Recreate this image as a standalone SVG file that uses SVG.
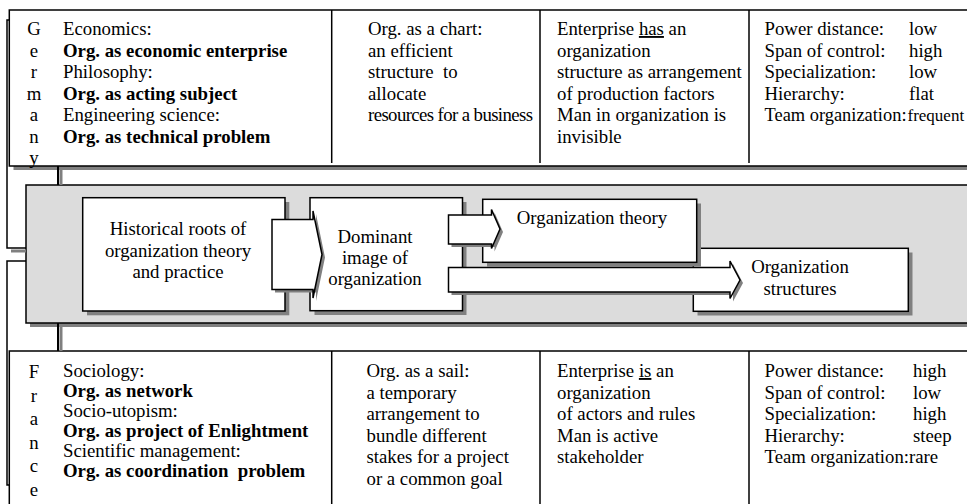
<svg xmlns="http://www.w3.org/2000/svg" width="967" height="504" viewBox="0 0 967 504">
<defs>
<style>
.t{font-family:"Liberation Serif","Times New Roman",serif;font-size:18.8px;fill:#000}
.b{font-weight:bold}
.c{text-anchor:middle}
.u{text-decoration:underline}
.frame{fill:#fff;stroke:#000;stroke-width:1.5}
.panel{fill:#dcdcdc;stroke:#000;stroke-width:1.5}
.shadow{fill:#808080;stroke:none}
.div{stroke:#000;stroke-width:1.5;fill:none}
.arrow{fill:#fff;stroke:#000;stroke-width:1.5;stroke-linejoin:miter}
.link{stroke:#000;stroke-width:1.5;fill:none}
.linkshadow{stroke:#808080;stroke-width:3;fill:none}
</style>
</defs>
<rect width="967" height="504" fill="#fff"/>

<g id="germany-row">
<rect class="shadow" x="13.5" y="14" width="970" height="156"/>
<rect class="frame" x="9.3" y="10" width="970" height="156"/>
<line class="div" x1="331.7" y1="10" x2="331.7" y2="163"/>
<line class="div" x1="540" y1="10" x2="540" y2="163"/>
<line class="div" x1="749" y1="10" x2="749" y2="163"/>
<text class="t c"><tspan x="34" y="35">G</tspan><tspan x="34" y="56.5">e</tspan><tspan x="34" y="78">r</tspan><tspan x="34" y="99.5">m</tspan><tspan x="34" y="121">a</tspan><tspan x="34" y="142.5">n</tspan><tspan x="34" y="164">y</tspan></text>
<text class="t"><tspan x="63" y="35">Economics:</tspan><tspan x="63" y="56.5" class="b">Org. as economic enterprise</tspan><tspan x="63" y="78">Philosophy:</tspan><tspan x="63" y="99.5" class="b">Org. as acting subject</tspan><tspan x="63" y="121">Engineering science:</tspan><tspan x="63" y="142.5" class="b">Org. as technical problem</tspan></text>
<text class="t" xml:space="preserve"><tspan x="368" y="35">Org. as a chart:</tspan><tspan x="368" y="56.5">an efficient</tspan><tspan x="368" y="78">structure  to</tspan><tspan x="368" y="99.5">allocate</tspan></text>
<text class="t" x="368" y="121" textLength="165" lengthAdjust="spacing">resources for a business</text>
<text class="t"><tspan x="557" y="35">Enterprise <tspan class="u">has</tspan> an</tspan><tspan x="557" y="56.5">organization</tspan><tspan x="557" y="78">structure as arrangement</tspan><tspan x="557" y="99.5">of production factors</tspan><tspan x="557" y="121">Man in organization is</tspan><tspan x="557" y="142.5">invisible</tspan></text>
<text class="t"><tspan x="764.5" y="35">Power distance:</tspan><tspan x="764.5" y="56.5">Span of control:</tspan><tspan x="764.5" y="78">Specialization:</tspan><tspan x="764.5" y="99.5">Hierarchy:</tspan></text>
<text class="t" x="764.5" y="121" textLength="142" lengthAdjust="spacingAndGlyphs">Team organization:</text>
<text class="t"><tspan x="909" y="35">low</tspan><tspan x="909" y="56.5">high</tspan><tspan x="909" y="78">low</tspan><tspan x="909" y="99.5">flat</tspan></text>
<text class="t" x="907.5" y="121" style="font-size:17px">frequent</text>
</g>

<g id="france-row">
<rect class="frame" x="9.3" y="351" width="970" height="170"/>
<line class="div" x1="331.7" y1="351" x2="331.7" y2="504"/>
<line class="div" x1="540" y1="351" x2="540" y2="504"/>
<line class="div" x1="749" y1="351" x2="749" y2="504"/>
<text class="t c"><tspan x="34" y="378">F</tspan><tspan x="34" y="401.5">r</tspan><tspan x="34" y="425">a</tspan><tspan x="34" y="448.5">n</tspan><tspan x="34" y="472">c</tspan><tspan x="34" y="495.5">e</tspan></text>
<text class="t" xml:space="preserve"><tspan x="63" y="377">Sociology:</tspan><tspan x="63" y="397" class="b">Org. as network</tspan><tspan x="63" y="417">Socio-utopism:</tspan><tspan x="63" y="437" class="b">Org. as project of Enlightment</tspan><tspan x="63" y="457">Scientific management:</tspan><tspan x="63" y="477" class="b">Org. as coordination  problem</tspan></text>
<text class="t"><tspan x="366.5" y="377">Org. as a sail:</tspan><tspan x="366.5" y="398.5">a temporary</tspan><tspan x="366.5" y="420">arrangement to</tspan><tspan x="366.5" y="441.5">bundle different</tspan><tspan x="366.5" y="463">stakes for a project</tspan><tspan x="366.5" y="484.5">or a common goal</tspan></text>
<text class="t"><tspan x="557" y="377">Enterprise <tspan class="u">is</tspan> an</tspan><tspan x="557" y="398.5">organization</tspan><tspan x="557" y="420">of actors and rules</tspan><tspan x="557" y="441.5">Man is active</tspan><tspan x="557" y="463">stakeholder</tspan></text>
<text class="t"><tspan x="764.5" y="377">Power distance:</tspan><tspan x="764.5" y="398.5">Span of control:</tspan><tspan x="764.5" y="420">Specialization:</tspan><tspan x="764.5" y="441.5">Hierarchy:</tspan></text>
<text class="t" x="764.5" y="463" textLength="144.5" lengthAdjust="spacingAndGlyphs">Team organization:</text>
<text class="t"><tspan x="913" y="377">high</tspan><tspan x="913" y="398.5">low</tspan><tspan x="913" y="420">high</tspan><tspan x="913" y="441.5">steep</tspan><tspan x="909" y="463">rare</tspan></text>
</g>

<g id="context-panel">
<rect class="shadow" x="30" y="189" width="960" height="138"/>
<rect class="panel" x="26" y="185" width="960" height="138"/>
</g>

<g id="node-historical">
<rect class="shadow" x="87" y="202" width="202.3" height="113.3"/>
<rect class="frame" x="82.7" y="197.7" width="202.3" height="113.3"/>
<text class="t c"><tspan x="178" y="235">Historical roots of</tspan><tspan x="178" y="256.5">organization theory</tspan><tspan x="178" y="278">and practice</tspan></text>
</g>

<g id="node-dominant">
<rect class="shadow" x="314.5" y="202" width="152" height="113"/>
<rect class="frame" x="310" y="197.7" width="152.5" height="113"/>
<text class="t c"><tspan x="375" y="243">Dominant</tspan><tspan x="375" y="264">image of</tspan><tspan x="375" y="285">organization</tspan></text>
</g>

<g id="node-org-structures">
<rect class="shadow" x="697.5" y="252.5" width="215" height="63"/>
<rect class="frame" x="693.3" y="248.3" width="215" height="63"/>
<text class="t c"><tspan x="800" y="273">Organization</tspan><tspan x="800" y="294.5">structures</tspan></text>
</g>

<g id="node-org-theory">
<rect class="shadow" x="487" y="203.5" width="214" height="63"/>
<rect class="frame" x="482.7" y="199.3" width="214" height="63"/>
<text class="t c"><tspan x="592" y="223.5">Organization theory</tspan></text>
</g>

<g id="connectors">
<path class="link" d="M9.3,20 H7 V248 H26"/>
<line class="linkshadow" x1="11" y1="251" x2="26" y2="251"/>
<path class="link" d="M26,261 H7 V485 H9.3"/>
<line class="linkshadow" x1="61" y1="168" x2="61" y2="185"/>
<line class="link" x1="58" y1="166" x2="58" y2="185" style="stroke-width:2"/>
<line class="linkshadow" x1="61" y1="327" x2="61" y2="351"/>
<line class="link" x1="58" y1="323" x2="58" y2="351" style="stroke-width:2"/>
<polygon class="shadow" points="275,222.5 316,222.5 316,214 325,257.5 316,301 316,292.5 275,292.5"/>
<polygon class="arrow" points="272,219.5 313,219.5 313,211 322,254.5 313,298 313,289.5 272,289.5"/>
<polygon class="shadow" points="451.5,218 494.5,218 494.5,212.5 503,232 494.5,251.5 494.5,247 451.5,247"/>
<polygon class="arrow" points="448.5,215 491.5,215 491.5,209.5 500,229 491.5,248.5 491.5,244 448.5,244"/>
<polygon class="shadow" points="451.5,270.5 733,270.5 733,264 743,283 733,301.5 733,295 451.5,295"/>
<polygon class="arrow" points="448.5,267.5 730,267.5 730,261 740,280 730,298.5 730,292 448.5,292"/>
</g>
</svg>
